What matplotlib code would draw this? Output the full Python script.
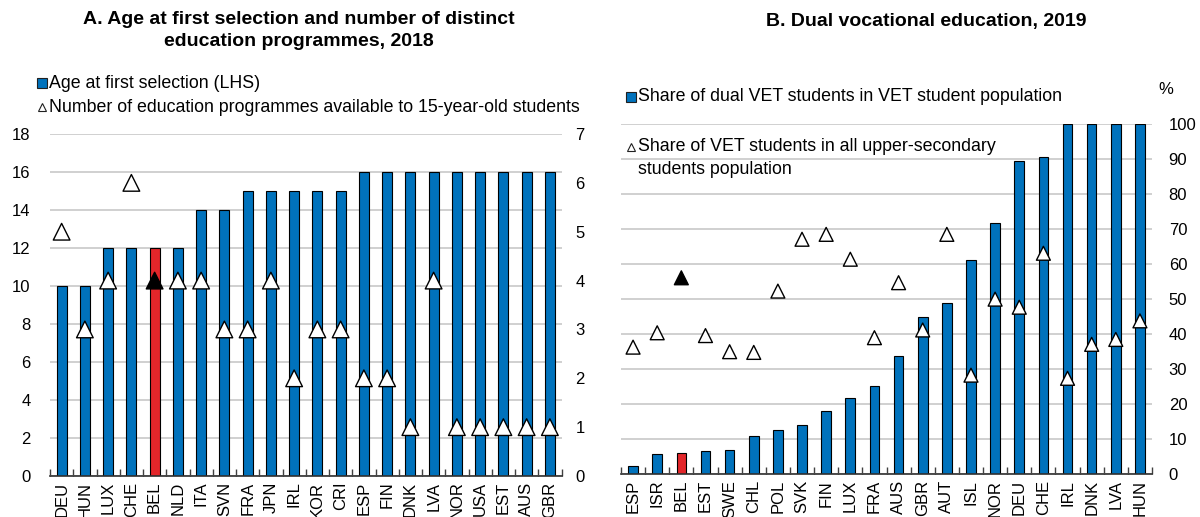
import numpy as np
import matplotlib
matplotlib.use("Agg")
import matplotlib.pyplot as plt
from matplotlib.lines import Line2D

plt.rcParams["font.family"] = ["Liberation Sans", "DejaVu Sans"]

# panel A data
a_countries = ["DEU", "HUN", "LUX", "CHE", "BEL", "NLD", "ITA", "SVN", "FRA", "JPN", "IRL",
               "KOR", "CRI", "ESP", "FIN", "DNK", "LVA", "NOR", "USA", "EST", "AUS", "GBR"]
a_age = [10, 10, 12, 12, 12, 12, 14, 14, 15, 15, 15, 15, 15, 16, 16, 16, 16, 16, 16, 16, 16, 16]
a_programmes = [5, 3, 4, 6, 4, 4, 4, 3, 3, 4, 2, 3, 3, 2, 2, 1, 4, 1, 1, 1, 1, 1]

# panel B data
b_countries = ["ESP", "ISR", "BEL", "EST", "SWE", "CHL", "POL", "SVK", "FIN", "LUX", "FRA",
               "AUS", "GBR", "AUT", "ISL", "NOR", "DEU", "CHE", "IRL", "DNK", "LVA", "HUN"]
b_dual = [2.5, 5.9, 6.1, 6.6, 6.8, 11.0, 12.7, 14.1, 18.2, 21.7, 25.2,
          33.9, 44.9, 48.9, 61.2, 71.6, 89.4, 90.5, 100, 100, 100, 100]
b_vet = [36.3, 40.4, 56.1, 39.6, 35.0, 34.8, 52.3, 67.1, 68.5, 61.4, 39.0,
         54.7, 41.2, 68.5, 28.3, 50.0, 47.7, 63.1, 27.4, 37.1, 38.5, 43.8]

BLUE = "#0072BC"
RED = "#E3262A"
GRID = "#C8C8C8"
W, H = 1200, 517
FS = 12       # tick labels
LFS = 12.8    # legend text
TFS = 14      # panel titles


def fx(px):
    return px / W


def fy(py):
    return 1 - py / H


def style_x(ax, n):
    x = np.arange(n)
    ax.set_xlim(-0.5, n - 0.5)
    ax.set_xticks(x)
    ax.set_xticks(np.arange(-0.5, n, 1), minor=True)
    ax.tick_params(axis="x", which="major", length=0, pad=4, labelsize=FS, labelrotation=90)
    ax.tick_params(axis="x", which="minor", direction="in", length=5, width=1, color="#404040")
    for s in ["top", "left", "right"]:
        ax.spines[s].set_visible(False)
    ax.spines["bottom"].set_color("#303030")
    ax.spines["bottom"].set_linewidth(1.2)
    ax.yaxis.grid(True, color=GRID, lw=1.2)
    ax.set_axisbelow(True)


def legend_marker(x, y, marker, ms, face):
    fig.add_artist(Line2D([fx(x)], [fy(y)], marker=marker, ms=ms, mfc=face, mec="#202020",
                          mew=0.8, ls="none", transform=fig.transFigure))


fig = plt.figure(figsize=(W / 100, H / 100), dpi=100)

# ---- panel A
axA = fig.add_axes([fx(50), 41 / H, 511.5 / W, 342 / H])
xa = np.arange(len(a_countries))
colsA = [RED if c == "BEL" else BLUE for c in a_countries]
axA.bar(xa, a_age, width=0.43, color=colsA, edgecolor="black", linewidth=0.8, zorder=2)
axA.set_ylim(0, 18)
axA.set_yticks(range(0, 19, 2))
style_x(axA, len(a_countries))
axA.set_xticklabels(a_countries)
axA.tick_params(axis="y", length=0, pad=14, labelsize=FS)

axA2 = axA.twinx()
axA2.set_ylim(0, 7)
axA2.set_yticks(range(0, 8))
axA2.tick_params(axis="y", length=0, pad=10, labelsize=FS)
for s in ["top", "left", "right", "bottom"]:
    axA2.spines[s].set_visible(False)
faceA = ["black" if c == "BEL" else "white" for c in a_countries]
axA2.scatter(xa, a_programmes, marker="^", s=12 ** 2, facecolors=faceA,
             edgecolors="black", linewidths=1, zorder=3, clip_on=False)

fig.text(fx(299), fy(20), "A. Age at first selection and number of distinct",
         ha="center", va="center", weight="bold", size=TFS)
fig.text(fx(299), fy(41.7), "education programmes, 2018",
         ha="center", va="center", weight="bold", size=TFS)

legend_marker(42, 83, "s", 7.2, BLUE)
fig.text(fx(49), fy(83), "Age at first selection (LHS)", ha="left", va="center", size=LFS)
legend_marker(42, 107, "^", 6, "white")
fig.text(fx(49), fy(107), "Number of education programmes available to 15-year-old students",
         ha="left", va="center", size=LFS)

# ---- panel B
axB = fig.add_axes([fx(621), (H - 474.3) / H, 531 / W, 350.3 / H])
xb = np.arange(len(b_countries))
colsB = [RED if c == "BEL" else BLUE for c in b_countries]
axB.bar(xb, b_dual, width=0.4, color=colsB, edgecolor="black", linewidth=0.8, zorder=2)
faceB = ["black" if c == "BEL" else "white" for c in b_countries]
axB.scatter(xb, b_vet, marker="^", s=10 ** 2, facecolors=faceB,
            edgecolors="black", linewidths=1, zorder=3)
axB.set_ylim(0, 100)
axB.set_yticks(range(0, 101, 10))
style_x(axB, len(b_countries))
axB.set_xticklabels(b_countries)
axB.yaxis.tick_right()
axB.tick_params(axis="y", length=0, pad=12, labelsize=FS)

fig.text(fx(926), fy(21.7), "B. Dual vocational education, 2019",
         ha="center", va="center", weight="bold", size=TFS)
fig.text(fx(1166), fy(90), "%", ha="center", va="center", size=FS)

legend_marker(631, 96.7, "s", 7.2, BLUE)
fig.text(fx(638), fy(96.7), "Share of dual VET students in VET student population",
         ha="left", va="center", size=LFS)
legend_marker(631, 146.7, "^", 6, "white")
fig.text(fx(638), fy(146.7), "Share of VET students in all upper-secondary",
         ha="left", va="center", size=LFS)
fig.text(fx(638), fy(170), "students population", ha="left", va="center", size=LFS)

fig.savefig("out.png", dpi=100)
